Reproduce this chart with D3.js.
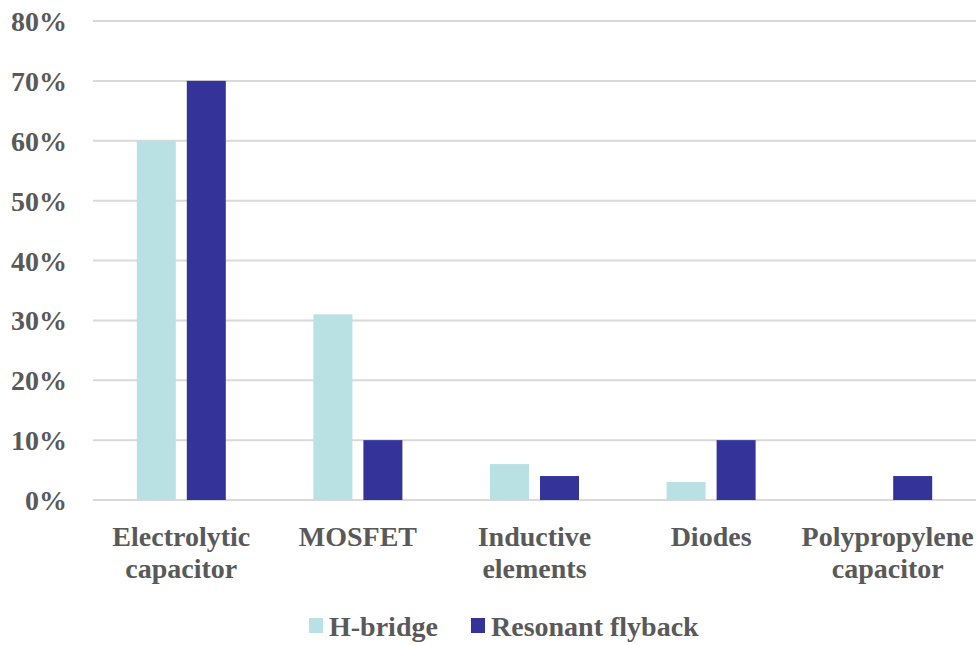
<!DOCTYPE html>
<html>
<head>
<meta charset="utf-8">
<script src="https://cdn.jsdelivr.net/npm/d3@7"></script>
<style>
  html, body { margin: 0; padding: 0; background: #fff; }
  svg text { font-family: "Liberation Serif", "Times New Roman", serif; font-weight: bold; fill: #595959; }
</style>
</head>
<body>
<svg id="chart" width="976" height="645"></svg>
<script>
// Failure share by component for two inverter topologies
const categories = [["Electrolytic", "capacitor"], ["MOSFET"], ["Inductive", "elements"], ["Diodes"], ["Polypropylene", "capacitor"]];
const seriesNames = ["H-bridge", "Resonant flyback"];
const hBridge = [60, 31, 6, 3, 0];
const resonantFlyback = [70, 10, 4, 10, 4];
const yTicks = [0, 10, 20, 30, 40, 50, 60, 70, 80];
const colors = ["#B9E0E3", "#343399"];

const svg = d3.select("#chart");
const margin = { left: 93, right: 0 };
const width = 976;

const x = d3.scaleBand()
  .domain(categories.map((d, i) => i))
  .range([margin.left, width - margin.right])
  .paddingInner(0).paddingOuter(0);

const y = d3.scaleLinear().domain([0, 80]).range([500, 21]);

const bw = 39, gap = 11;

// gridlines
svg.append("g").selectAll("line").data(yTicks).join("line")
  .attr("x1", margin.left).attr("x2", width)
  .attr("y1", d => y(d)).attr("y2", d => y(d))
  .attr("stroke", "#d9d9d9").attr("stroke-width", 2);

// y tick labels
svg.append("g").selectAll("text").data(yTicks).join("text")
  .attr("x", 67).attr("y", d => y(d) + 10)
  .attr("text-anchor", "end")
  .style("font-size", "28px")
  .text(d => d + "%");

// bars
const series = [hBridge, resonantFlyback];
series.forEach((vals, s) => {
  svg.append("g").selectAll("rect").data(vals).join("rect")
    .attr("x", (d, i) => x(i) + x.bandwidth() / 2 + (s === 0 ? -(gap / 2 + bw) : gap / 2))
    .attr("width", bw)
    .attr("y", d => y(d))
    .attr("height", d => y(0) - y(d))
    .attr("fill", colors[s]);
});

// category labels
const cat = svg.append("g").selectAll("text").data(categories).join("text")
  .attr("text-anchor", "middle")
  .style("font-size", "28px")
  .attr("transform", (d, i) => `translate(${x(i) + x.bandwidth() / 2},546)`);
cat.selectAll("tspan").data(d => d).join("tspan")
  .attr("x", 0).attr("dy", (d, j) => j === 0 ? 0 : 32)
  .text(d => d);

// legend
const legendX = [309, 471];
const lg = svg.append("g").selectAll("g").data(seriesNames).join("g")
  .attr("transform", (d, i) => `translate(${legendX[i]},618)`);
lg.append("rect").attr("width", 14).attr("height", 15).attr("fill", (d, i) => colors[i]);
lg.append("text").attr("x", 20).attr("y", 18).style("font-size", "28px").text(d => d);
</script>
</body>
</html>
